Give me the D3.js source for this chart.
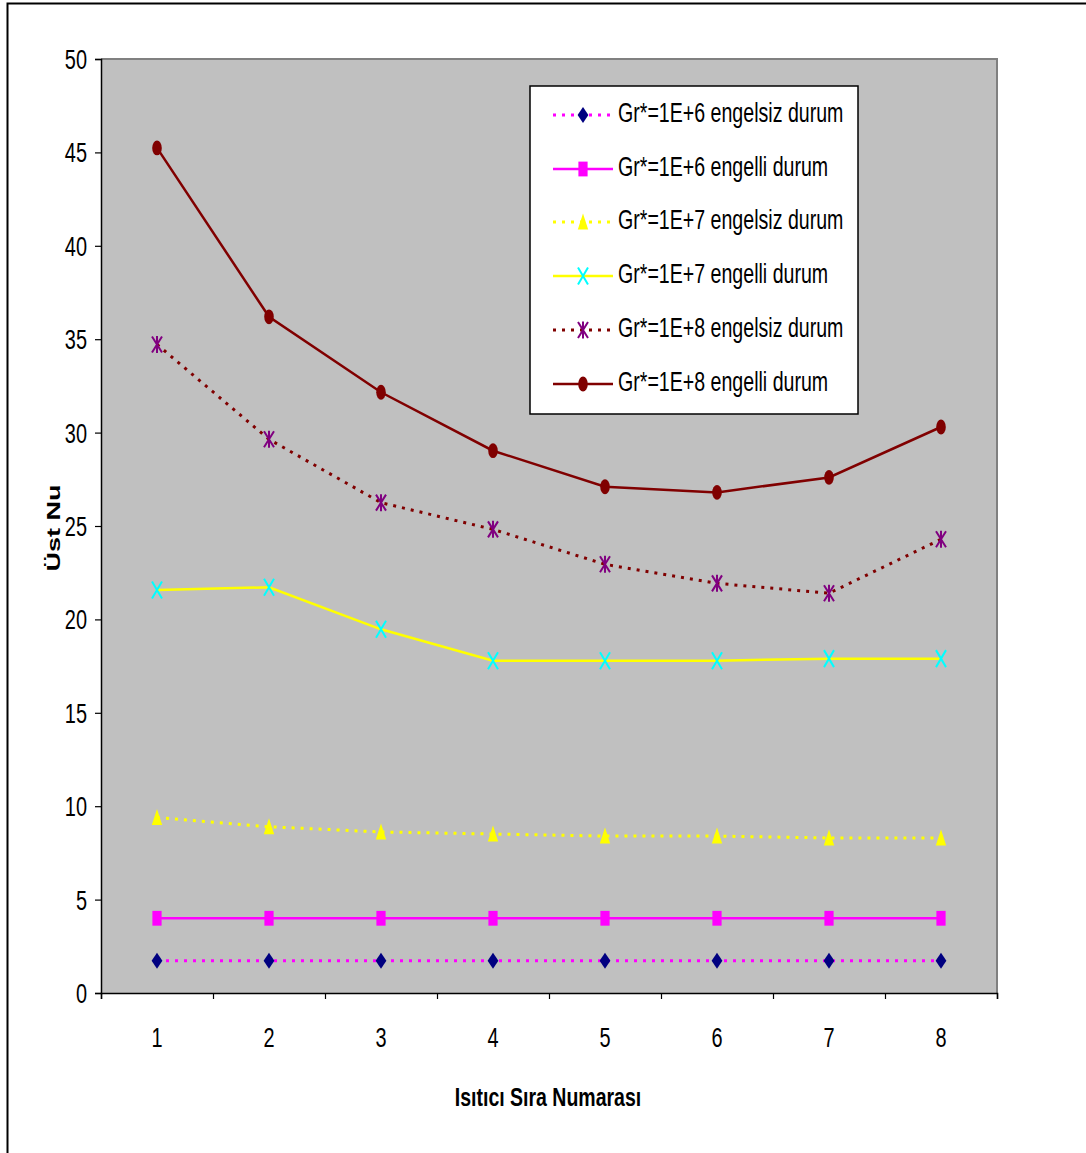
<!DOCTYPE html>
<html><head><meta charset="utf-8">
<script src="https://cdn.jsdelivr.net/npm/d3@7"></script>
<style>html,body{margin:0;padding:0;background:#fff;overflow:hidden}</style>
</head><body>
<svg id="chart" width="1086" height="1153"></svg>
<script>
const categories = [1, 2, 3, 4, 5, 6, 7, 8];
const yTicks = [0, 5, 10, 15, 20, 25, 30, 35, 40, 45, 50];
const seriesNames = [
  "Gr*=1E+6 engelsiz durum",
  "Gr*=1E+6 engelli durum",
  "Gr*=1E+7 engelsiz durum",
  "Gr*=1E+7 engelli durum",
  "Gr*=1E+8 engelsiz durum",
  "Gr*=1E+8 engelli durum"
];
const gr6Engelsiz = [1.73, 1.73, 1.73, 1.73, 1.73, 1.73, 1.73, 1.73];
const gr6Engelli  = [4.0, 4.0, 4.0, 4.0, 4.0, 4.0, 4.0, 4.0];
const gr7Engelsiz = [9.4, 8.9, 8.62, 8.51, 8.4, 8.4, 8.3, 8.3];
const gr7Engelli  = [21.57, 21.72, 19.47, 17.79, 17.79, 17.79, 17.9, 17.9];
const gr8Engelsiz = [34.72, 29.64, 26.25, 24.82, 22.95, 21.93, 21.4, 24.29];
const gr8Engelli  = [45.24, 36.2, 32.16, 29.03, 27.1, 26.8, 27.6, 30.3];
const xTitle = "Isıtıcı Sıra Numarası";
const yTitle = "Üst Nu";

const svg = d3.select("#chart");
const L = 101, R = 997, T = 59, B = 993;
const x = d3.scaleBand().domain(categories).range([L, R]);
const y = d3.scaleLinear().domain([0, 50]).range([B, T]);
const SX = 0.7; // horizontal text compression
const FONT = "'Liberation Sans', Arial, sans-serif";

// outer border
svg.append("rect").attr("x", 7.5).attr("y", 3.5).attr("width", 1100).attr("height", 1200)
  .attr("fill", "#fff").attr("stroke", "#000").attr("stroke-width", 2);

// plot area
svg.append("rect").attr("x", L).attr("y", T).attr("width", R - L).attr("height", B - T)
  .attr("fill", "#C0C0C0");
svg.append("path").attr("d", `M${L},${T}H${R}V${B}`).attr("fill", "none")
  .attr("stroke", "#808080").attr("stroke-width", 2);

// y axis
const yAxis = svg.append("g").attr("transform", `translate(${L},0)`)
  .call(d3.axisLeft(y).tickValues(yTicks).tickSize(6).tickFormat(""));
yAxis.select(".domain").attr("stroke", "#000").attr("stroke-width", 1.5);
yAxis.selectAll(".tick line").attr("stroke", "#000").attr("stroke-width", 1.2);
yTicks.forEach(t => {
  svg.append("g").attr("transform", `translate(87,${y(t) + 10}) scale(${SX},1)`)
    .append("text").attr("text-anchor", "end").attr("font-family", FONT)
    .attr("font-size", 28.5).attr("fill", "#000").text(t);
});

// x axis (ticks at category boundaries)
const xAxisScale = d3.scaleLinear().domain([0, categories.length]).range([L, R]);
const xAxis = svg.append("g").attr("transform", `translate(0,${B})`)
  .call(d3.axisBottom(xAxisScale).tickValues(d3.range(0, categories.length + 1)).tickSize(6).tickFormat(""));
xAxis.select(".domain").attr("stroke", "#000").attr("stroke-width", 1.5);
xAxis.selectAll(".tick line").attr("stroke", "#000").attr("stroke-width", 1.2);
categories.forEach(c => {
  svg.append("g").attr("transform", `translate(${x(c) + x.bandwidth() / 2},1047) scale(${SX},1)`)
    .append("text").attr("text-anchor", "middle").attr("font-family", FONT)
    .attr("font-size", 28.5).attr("fill", "#000").text(c);
});

// axis titles
svg.append("g").attr("transform", `translate(548,1106) scale(0.75,1)`)
  .append("text").attr("text-anchor", "middle").attr("font-family", FONT)
  .attr("font-weight", "bold").attr("font-size", 26).attr("fill", "#000").text(xTitle);
svg.append("g").attr("transform", `translate(60,528) scale(${SX},1) rotate(-90)`)
  .append("text").attr("text-anchor", "middle").attr("font-family", FONT)
  .attr("font-weight", "bold").attr("font-size", 27).attr("fill", "#000").text(yTitle);

// marker drawers (local coords, centered at 0,0)
const markers = {
  diamond: g => g.append("path").attr("d", "M0,-8L5.4,0L0,8L-5.4,0Z").attr("fill", "#000080"),
  square: g => g.append("rect").attr("x", -4.6).attr("y", -7.4).attr("width", 9.2).attr("height", 14.8).attr("fill", "#FF00FF"),
  triangle: g => g.append("path").attr("d", "M0,-8.5L5.2,7.5L-5.2,7.5Z").attr("fill", "#FFFF00"),
  xmark: g => g.append("path").attr("d", "M-5,-8.5L5,8.5M5,-8.5L-5,8.5").attr("stroke", "#00FFFF").attr("stroke-width", 2).attr("fill", "none"),
  star: g => g.append("path").attr("d", "M-5,-8L5,8M5,-8L-5,8M0,-8.5V8.5").attr("stroke", "#800080").attr("stroke-width", 2).attr("fill", "none"),
  circle: g => g.append("ellipse").attr("rx", 4.8).attr("ry", 7.4).attr("fill", "#800000")
};

const series = [
  { name: seriesNames[0], values: gr6Engelsiz, color: "#FF00FF", dash: "3,6", marker: "diamond" },
  { name: seriesNames[1], values: gr6Engelli,  color: "#FF00FF", dash: null,  marker: "square" },
  { name: seriesNames[2], values: gr7Engelsiz, color: "#FFFF00", dash: "3,6", marker: "triangle" },
  { name: seriesNames[3], values: gr7Engelli,  color: "#FFFF00", dash: null,  marker: "xmark" },
  { name: seriesNames[4], values: gr8Engelsiz, color: "#800000", dash: "3,6", marker: "star" },
  { name: seriesNames[5], values: gr8Engelli,  color: "#800000", dash: null,  marker: "circle" }
];

const line = d3.line().x((d, i) => x(categories[i]) + x.bandwidth() / 2).y(d => y(d));
series.forEach(s => {
  const p = svg.append("path").attr("d", line(s.values)).attr("fill", "none")
    .attr("stroke", s.color).attr("stroke-width", s.dash ? 3 : 2.5);
  if (s.dash) p.attr("stroke-dasharray", s.dash);
  s.values.forEach((v, i) => {
    const g = svg.append("g").attr("transform", `translate(${x(categories[i]) + x.bandwidth() / 2},${y(v)})`);
    markers[s.marker](g);
  });
});

// legend
const lg = svg.append("g");
lg.append("rect").attr("x", 530).attr("y", 86).attr("width", 328).attr("height", 328)
  .attr("fill", "#fff").attr("stroke", "#000").attr("stroke-width", 1.5);
const rowY = [115, 169, 222, 276, 330, 384];
series.forEach((s, i) => {
  const ry = rowY[i];
  const p = lg.append("line").attr("x1", 553).attr("x2", 613).attr("y1", ry).attr("y2", ry)
    .attr("stroke", s.color).attr("stroke-width", s.dash ? 3 : 2.5);
  if (s.dash) p.attr("stroke-dasharray", s.dash);
  markers[s.marker](lg.append("g").attr("transform", `translate(583,${ry})`));
  lg.append("g").attr("transform", `translate(618,${ry + 7}) scale(${SX},1)`)
    .append("text").attr("font-family", FONT).attr("font-size", 28).attr("fill", "#000").text(s.name);
});
</script>
</body></html>
